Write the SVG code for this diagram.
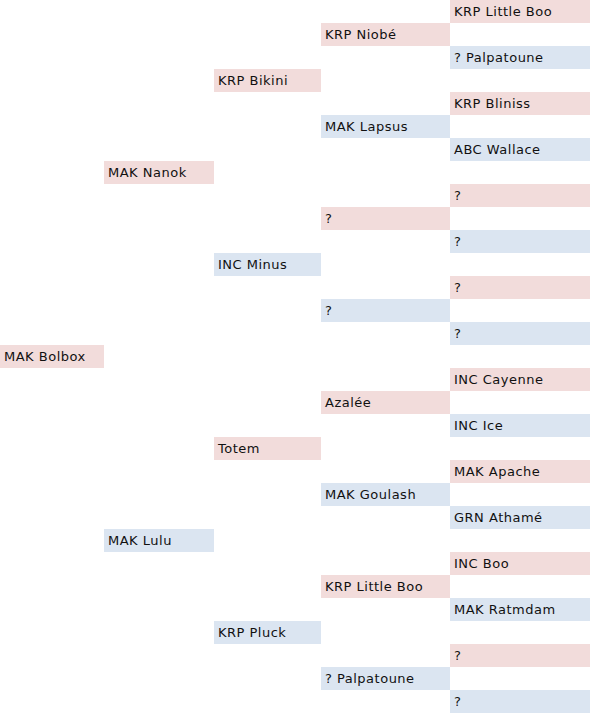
<svg xmlns="http://www.w3.org/2000/svg" width="590" height="713" viewBox="0 0 590 713">
<style>
.m{fill:#f2dcdb}
.f{fill:#dbe5f1}
text{font-family:"DejaVu Sans","Noto Sans",sans-serif;font-size:13px;letter-spacing:0.5px;fill:#111}
</style>
<rect width="590" height="713" fill="#fff"/>
<g id="n-bolbox"><rect class="m" x="0" y="345" width="104" height="23"/><text x="4" y="361">MAK Bolbox</text></g>
<g id="n-nanok"><rect class="m" x="104" y="161" width="110" height="23"/><text x="108" y="177">MAK Nanok</text></g>
<g id="n-lulu"><rect class="f" x="104" y="529" width="110" height="23"/><text x="108" y="545">MAK Lulu</text></g>
<g id="n-bikini"><rect class="m" x="214" y="69" width="107" height="23"/><text x="218" y="85">KRP Bikini</text></g>
<g id="n-minus"><rect class="f" x="214" y="253" width="107" height="23"/><text x="218" y="269">INC Minus</text></g>
<g id="n-totem"><rect class="m" x="214" y="437" width="107" height="23"/><text x="218" y="453">Totem</text></g>
<g id="n-pluck"><rect class="f" x="214" y="621" width="107" height="23"/><text x="218" y="637">KRP Pluck</text></g>
<g id="n-niobe"><rect class="m" x="321" y="23" width="129" height="23"/><text x="325" y="39">KRP Niobé</text></g>
<g id="n-lapsus"><rect class="f" x="321" y="115" width="129" height="23"/><text x="325" y="131">MAK Lapsus</text></g>
<g id="n-q3a"><rect class="m" x="321" y="207" width="129" height="23"/><text x="325" y="223">?</text></g>
<g id="n-q3b"><rect class="f" x="321" y="299" width="129" height="23"/><text x="325" y="315">?</text></g>
<g id="n-azalee"><rect class="m" x="321" y="391" width="129" height="23"/><text x="325" y="407">Azalée</text></g>
<g id="n-goulash"><rect class="f" x="321" y="483" width="129" height="23"/><text x="325" y="499">MAK Goulash</text></g>
<g id="n-littleboo2"><rect class="m" x="321" y="575" width="129" height="23"/><text x="325" y="591">KRP Little Boo</text></g>
<g id="n-palpa2"><rect class="f" x="321" y="667" width="129" height="23"/><text x="325" y="683">? Palpatoune</text></g>
<g id="n-littleboo1"><rect class="m" x="450" y="0" width="140" height="23"/><text x="454" y="16">KRP Little Boo</text></g>
<g id="n-palpa1"><rect class="f" x="450" y="46" width="140" height="23"/><text x="454" y="62">? Palpatoune</text></g>
<g id="n-bliniss"><rect class="m" x="450" y="92" width="140" height="23"/><text x="454" y="108">KRP Bliniss</text></g>
<g id="n-wallace"><rect class="f" x="450" y="138" width="140" height="23"/><text x="454" y="154">ABC Wallace</text></g>
<g id="n-q4a"><rect class="m" x="450" y="184" width="140" height="23"/><text x="454" y="200">?</text></g>
<g id="n-q4b"><rect class="f" x="450" y="230" width="140" height="23"/><text x="454" y="246">?</text></g>
<g id="n-q4c"><rect class="m" x="450" y="276" width="140" height="23"/><text x="454" y="292">?</text></g>
<g id="n-q4d"><rect class="f" x="450" y="322" width="140" height="23"/><text x="454" y="338">?</text></g>
<g id="n-cayenne"><rect class="m" x="450" y="368" width="140" height="23"/><text x="454" y="384">INC Cayenne</text></g>
<g id="n-ice"><rect class="f" x="450" y="414" width="140" height="23"/><text x="454" y="430">INC Ice</text></g>
<g id="n-apache"><rect class="m" x="450" y="460" width="140" height="23"/><text x="454" y="476">MAK Apache</text></g>
<g id="n-athame"><rect class="f" x="450" y="506" width="140" height="23"/><text x="454" y="522">GRN Athamé</text></g>
<g id="n-boo"><rect class="m" x="450" y="552" width="140" height="23"/><text x="454" y="568">INC Boo</text></g>
<g id="n-ratmdam"><rect class="f" x="450" y="598" width="140" height="23"/><text x="454" y="614">MAK Ratmdam</text></g>
<g id="n-q4e"><rect class="m" x="450" y="644" width="140" height="23"/><text x="454" y="660">?</text></g>
<g id="n-q4f"><rect class="f" x="450" y="690" width="140" height="23"/><text x="454" y="706">?</text></g>
</svg>
